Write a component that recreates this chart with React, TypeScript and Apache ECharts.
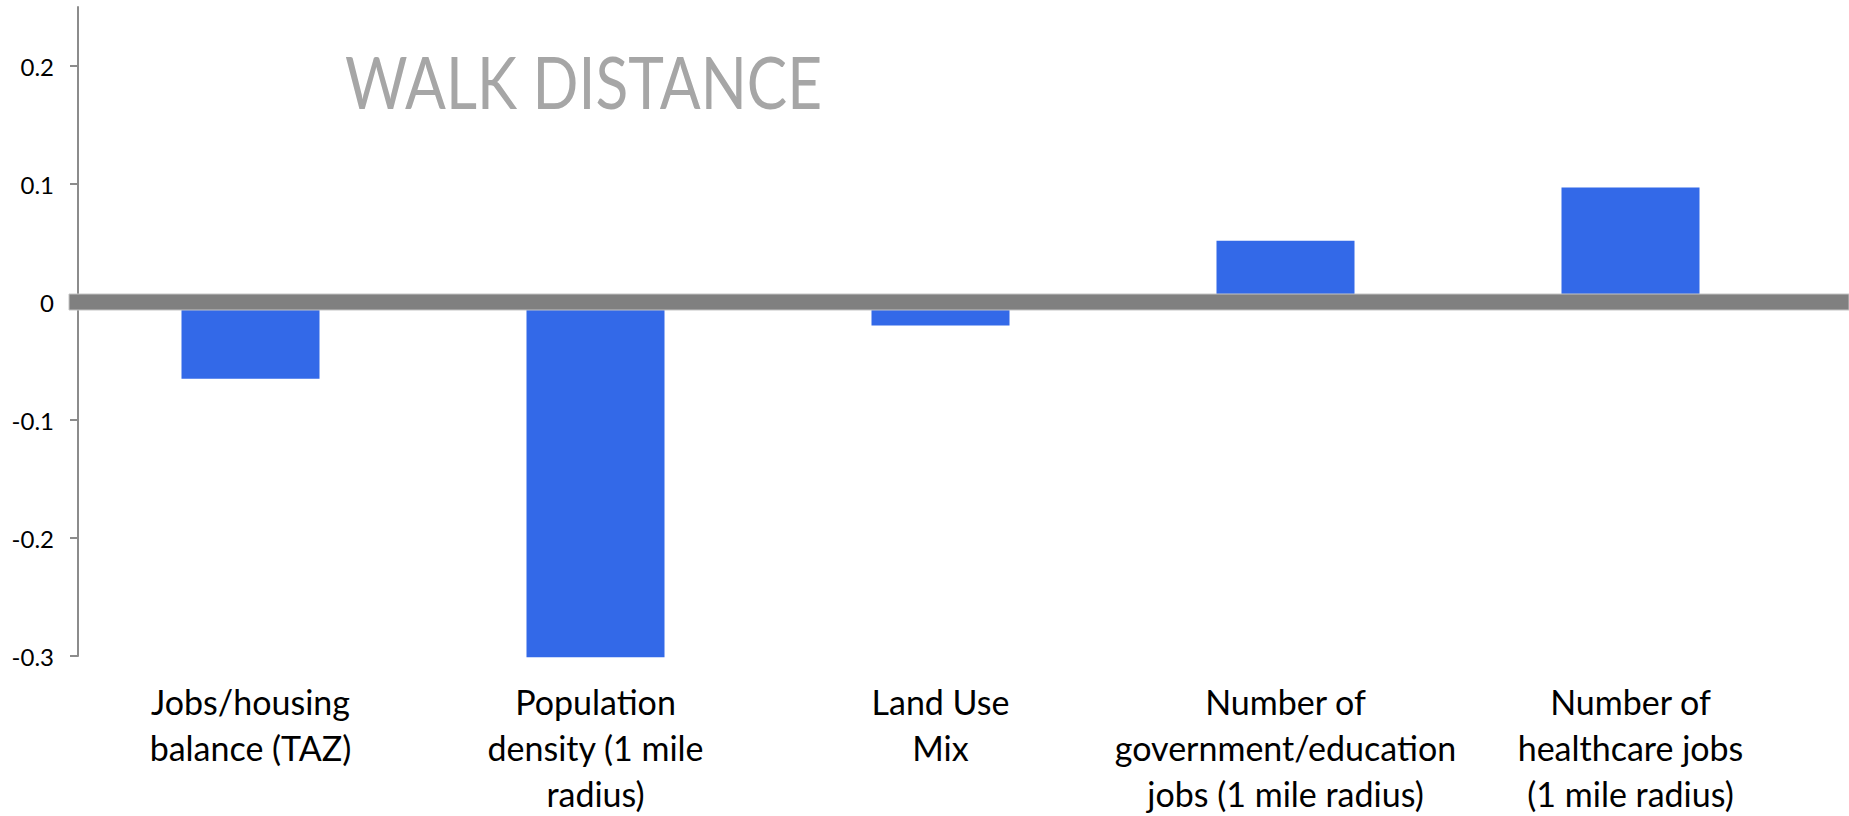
import React, { useEffect, useRef } from "react";
import * as echarts from "echarts";

const categoryLines: string[][] = [
  ["Jobs/housing", "balance (TAZ)"],
  ["Population", "density (1 mile", "radius)"],
  ["Land Use", "Mix"],
  ["Number of", "government/education", "jobs (1 mile radius)"],
  ["Number of", "healthcare jobs", "(1 mile radius)"],
];
const categories = categoryLines.map((l) => l.join("\n"));
const values = [-0.065, -0.301, -0.02, 0.052, 0.097];
const yTicks = [-0.3, -0.2, -0.1, 0, 0.1, 0.2];
const yMin = -0.3;
const yMax = 0.25;
const chartTitle = "WALK DISTANCE";

export default function App() {
  const ref = useRef<HTMLDivElement>(null);
  useEffect(() => {
    document.body.style.margin = "0";
    const chart = echarts.init(ref.current!, null, { renderer: "svg" });
    chart.setOption({
      animation: false,
      grid: {
        left: 78,
        right: 46,
        top: 7,
        bottom: 160,
        containLabel: false,
        outerBoundsMode: "none",
      },
      xAxis: {
        type: "category",
        data: categories,
        axisLine: { show: false, onZero: false },
        axisTick: { show: false },
        axisLabel: {
          interval: 0,
          margin: 22,
          fontFamily: "Lato",
          fontSize: 34,
          lineHeight: 46,
          color: "#000",
        },
      },
      yAxis: {
        type: "value",
        min: yMin,
        max: yMax,
        splitLine: { show: false },
        axisLine: { show: true, lineStyle: { color: "#8c8c8c", width: 2 } },
        axisTick: {
          show: true,
          length: 8,
          customValues: yTicks,
          lineStyle: { color: "#8c8c8c", width: 2 },
        },
        axisLabel: {
          customValues: yTicks,
          margin: 24,
          fontFamily: "Lato",
          fontSize: 24,
          color: "#000",
          formatter: (v: number) => String(Math.round(v * 10) / 10),
        },
      },
      series: [
        {
          type: "bar",
          data: values,
          barWidth: "40%",
          clip: false,
          itemStyle: { color: "#3369E8" },
        },
      ],
    });
    const y0 = chart.convertToPixel({ yAxisIndex: 0 }, 0) as number;
    chart.setOption({
      graphic: [
        {
          type: "rect",
          z: 100,
          shape: { x: 69, y: y0 - 8, width: 1849 - 69, height: 16 },
          style: { fill: "#808080", stroke: "#c4c4c4", lineWidth: 1 },
        },
        {
          type: "text",
          z: 100,
          x: 345,
          y: 81,
          scaleX: 0.84,
          style: {
            text: chartTitle,
            fontFamily: "Lato",
            fontSize: 72,
            fill: "#A6A6A6",
            verticalAlign: "middle",
          },
        },
      ],
    });
    return () => chart.dispose();
  }, []);
  return <div ref={ref} style={{ width: 1849, height: 816 }} />;
}
